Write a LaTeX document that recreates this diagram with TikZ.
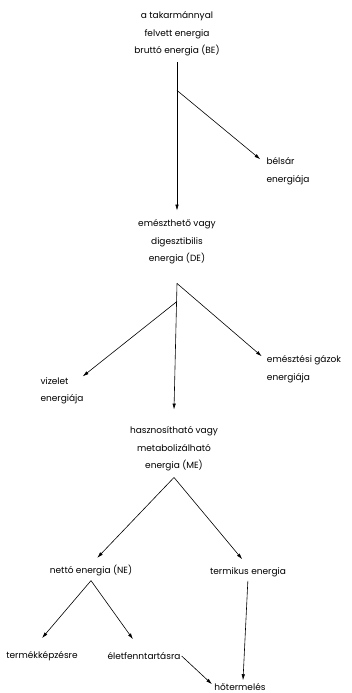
\documentclass[tikz,border=0pt]{standalone}
\usepackage{fontspec}
\setmainfont{Poppins}
\usetikzlibrary{arrows.meta}
\begin{document}
\begin{tikzpicture}[x=1pt,y=-1pt,
  lbl/.style={align=center,inner sep=1pt,font=\fontsize{9}{17.5}\selectfont},
  arr/.style={line width=0.6pt,-{Latex[length=6pt,width=3.5pt]}},
  ln/.style={line width=0.6pt}]
\useasboundingbox (0,0) rectangle (351,693);
\node[lbl] (BE) at (177,34) {a takarmánnyal\\felvett energia\\bruttó energia (BE)};
\node[lbl,align=left] (BS) at (288,171) {bélsár\\energiája};
\node[lbl] (DE) at (177,242) {emészthető vagy\\digesztibilis\\energia (DE)};
\node[lbl,align=left] (VI) at (62,391) {vizelet\\energiája};
\node[lbl,align=left] (GA) at (304,369) {emésztési gázok\\energiája};
\node[lbl] (ME) at (174,449) {hasznosítható vagy\\metabolizálható\\energia (ME)};
\node[lbl] (NE) at (91,571) {nettó energia (NE)};
\node[lbl] (TE) at (248,572) {termikus energia};
\node[lbl] (TK) at (42,656) {termékképzésre};
\node[lbl] (EL) at (144,656) {életfenntartásra};
\node[lbl] (HO) at (240,687) {hőtermelés};
% branch points
\coordinate (c1) at ([yshift=-33pt]BE.south);
\coordinate (c2) at ([yshift=-18pt]DE.south);
\coordinate (c3) at ([yshift=-36pt]DE.south);
\coordinate (c4) at ([yshift=-5pt]ME.south);
\coordinate (c5) at ([yshift=-3pt]NE.south);
% connectors
\draw[arr,shorten <=5pt,shorten >=8pt] (BE.south) -- (DE.north);
\draw[arr] (c1) -- ([shift={(-5pt,-3pt)}]BS.north west);
\draw[arr] (c2) -- ([yshift=16pt]ME.north);
\draw[arr] (c2) -- ([shift={(-4pt,-2pt)}]GA.north west);
\draw[arr] (c3) -- ([shift={(-2pt,0pt)}]VI.north east);
\draw[arr,shorten >=9pt] (c4) -- (NE.north);
\draw[arr,shorten >=9pt] (c4) -- (TE.north);
\draw[arr] (c5) -- ([yshift=12pt]TK.north);
\draw[arr] (c5) -- ([shift={(-11pt,12pt)}]EL.north);
\draw[arr,shorten <=3pt] (TE.south) -- ([shift={(3pt,2pt)}]HO.north);
\draw[arr] (EL.east) -- ([shift={(-28pt,-2pt)}]HO.north);
\end{tikzpicture}
\end{document}
